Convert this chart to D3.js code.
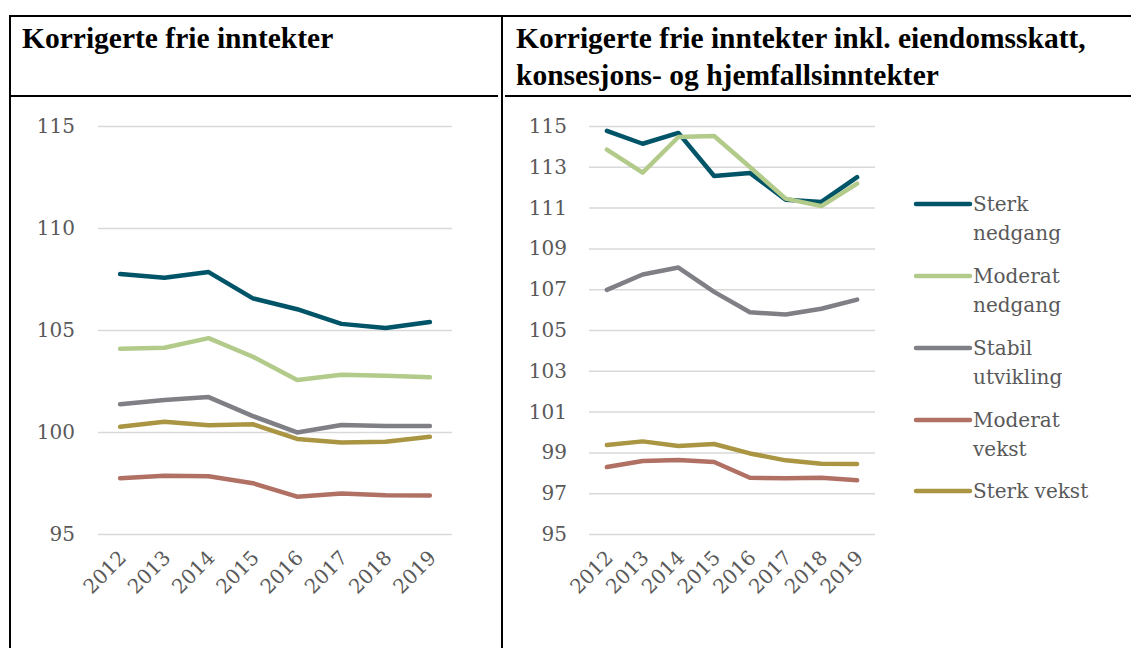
<!DOCTYPE html>
<html><head><meta charset="utf-8">
<script src="https://cdn.jsdelivr.net/npm/d3@7"></script>
<style>
html,body{margin:0;padding:0;background:#fff;}
svg{display:block;}
</style></head>
<body>
<script>
const years = ["2012","2013","2014","2015","2016","2017","2018","2019"];
const seriesNames = ["Sterk nedgang","Moderat nedgang","Stabil utvikling","Moderat vekst","Sterk vekst"];
const legendLines = [["Sterk","nedgang"],["Moderat","nedgang"],["Stabil","utvikling"],["Moderat","vekst"],["Sterk vekst"]];
const colors = ["#005468","#B3CB8A","#7F7F86","#B07064","#A99542"];

// Left panel: Korrigerte frie inntekter
const leftSterkNedgang   = [107.74,107.56,107.84,106.55,106.02,105.30,105.10,105.39];
const leftModeratNedgang = [104.08,104.13,104.60,103.69,102.55,102.81,102.76,102.68];
const leftStabil         = [101.36,101.57,101.71,100.78,99.98,100.34,100.29,100.29];
const leftModeratVekst   = [97.73,97.85,97.83,97.49,96.83,96.98,96.90,96.89];
const leftSterkVekst     = [100.26,100.50,100.33,100.38,99.66,99.48,99.52,99.77];

// Right panel: inkl. eiendomsskatt, konsesjons- og hjemfallsinntekter
const rightSterkNedgang   = [114.76,114.13,114.66,112.55,112.70,111.39,111.28,112.49];
const rightModeratNedgang = [113.84,112.71,114.46,114.51,112.99,111.44,111.07,112.18];
const rightStabil         = [106.97,107.72,108.06,106.87,105.87,105.76,106.04,106.49];
const rightModeratVekst   = [98.28,98.58,98.63,98.53,97.76,97.73,97.76,97.63];
const rightSterkVekst     = [99.36,99.54,99.31,99.41,98.95,98.61,98.44,98.43];

const leftTicks  = [95,100,105,110,115];
const rightTicks = [95,97,99,101,103,105,107,109,111,113,115];

const titleLeft = ["Korrigerte frie inntekter"];
const titleRight = ["Korrigerte frie inntekter inkl. eiendomsskatt,","konsesjons- og hjemfallsinntekter"];

const W = 1131, H = 648;
const svg = d3.select("body").append("svg").attr("width",W).attr("height",H);
const labelFont = "'DejaVu Serif', serif";
const textColor = "#595959";

// table frame
const frame = svg.append("g").attr("stroke","#000").attr("stroke-width",2);
frame.append("line").attr("x1",9).attr("x2",W).attr("y1",16).attr("y2",16);
frame.append("line").attr("x1",10).attr("x2",10).attr("y1",15).attr("y2",H);
frame.append("line").attr("x1",502).attr("x2",502).attr("y1",15).attr("y2",H);
frame.append("line").attr("x1",10).attr("x2",498).attr("y1",96).attr("y2",96);
frame.append("line").attr("x1",505).attr("x2",W).attr("y1",96).attr("y2",96);

// titles
function title(lines, x){
  const t = svg.append("text").attr("x",x).attr("y",48)
    .attr("font-family","'Liberation Serif', 'Times New Roman', serif")
    .attr("font-weight","bold").attr("font-size",29.5).attr("fill","#000");
  lines.forEach((l,i)=>t.append("tspan").attr("x",x).attr("dy",i===0?0:37).text(l));
}
title(titleLeft, 22);
title(titleRight, 516);

function panel(data, ticks, x0, x1, labelGap){
  const x = d3.scalePoint().domain(years).range([x0,x1]).padding(0.5);
  const y = d3.scaleLinear().domain([95,115]).range([534,126]);
  const g = svg.append("g");
  const ax = g.append("g").attr("transform",`translate(${x0},0)`)
    .call(d3.axisLeft(y).tickValues(ticks).tickSizeInner(-(x1-x0)).tickSizeOuter(0).tickPadding(labelGap).tickFormat(d3.format("d")));
  ax.select(".domain").remove();
  ax.selectAll(".tick line").attr("stroke","#D9D9D9").attr("stroke-width",1.5);
  ax.selectAll(".tick text").attr("font-family",labelFont).attr("font-size",20).attr("fill",textColor);
  const xa = g.append("g").attr("transform","translate(0,534)")
    .call(d3.axisBottom(x).tickSize(0).tickPadding(0));
  xa.select(".domain").remove();
  xa.selectAll(".tick text").attr("font-family",labelFont).attr("font-size",20).attr("fill",textColor)
    .attr("text-anchor","end").attr("dy",0).attr("y",0)
    .attr("transform","translate(7,25) rotate(-45)");
  const line = d3.line().x((d,i)=>x(years[i])).y(d=>y(d));
  data.forEach((s,i)=>{
    g.append("path").datum(s).attr("d",line).attr("fill","none")
      .attr("stroke",colors[i]).attr("stroke-width",4.5)
      .attr("stroke-linejoin","round").attr("stroke-linecap","round");
  });
}
panel([leftSterkNedgang,leftModeratNedgang,leftStabil,leftModeratVekst,leftSterkVekst], leftTicks, 98, 452, 23);
panel([rightSterkNedgang,rightModeratNedgang,rightStabil,rightModeratVekst,rightSterkVekst], rightTicks, 589, 875, 22);

// legend
const legendY = [204,276,348,420,491];
const lg = svg.append("g");
seriesNames.forEach((n,i)=>{
  lg.append("line").attr("x1",916).attr("x2",970).attr("y1",legendY[i]).attr("y2",legendY[i])
    .attr("stroke",colors[i]).attr("stroke-width",4.5).attr("stroke-linecap","round");
  const t = lg.append("text").attr("x",973).attr("y",legendY[i]+7)
    .attr("font-family",labelFont).attr("font-size",20).attr("fill",textColor);
  legendLines[i].forEach((l,j)=>t.append("tspan").attr("x",973).attr("dy",j===0?0:29).text(l));
});
</script>
</body></html>
